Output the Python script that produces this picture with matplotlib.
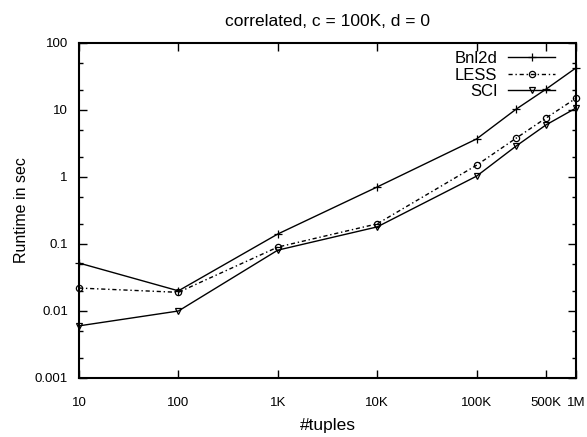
import matplotlib
matplotlib.use("Agg")
import matplotlib.pyplot as plt
from matplotlib.ticker import FixedLocator, LogLocator, NullLocator, NullFormatter

plt.rcParams['font.family'] = ['Liberation Sans', 'DejaVu Sans']

tuples = [10, 100, 1e3, 1e4, 1e5, 2.5e5, 5e5, 1e6]
bnl2d = [0.052, 0.020, 0.141, 0.71, 3.7, 10.3, 20.5, 42.5]
less = [0.022, 0.019, 0.090, 0.20, 1.5, 3.8, 7.6, 15.0]
sci = [0.006, 0.010, 0.081, 0.18, 1.03, 2.9, 6.0, 10.7]

xticks = [10, 100, 1e3, 1e4, 1e5, 5e5, 1e6]
xlabels = ['10', '100', '1K', '10K', '100K', '500K', '1M']
yticks = [0.001, 0.01, 0.1, 1, 10, 100]
ylabels = ['0.001', '0.01', '0.1', '1', '10', '100']

fig = plt.figure(figsize=(5.87, 4.37), dpi=100)
ax = fig.add_axes([79/587, 1 - 378/437, (576 - 79)/587, (378 - 43)/437])

ax.plot(tuples, bnl2d, color='black', lw=1, marker='+', ms=6, mew=0.9,
        clip_on=False, label='Bnl2d')
ax.plot(tuples, less, color='black', lw=1, dashes=(3, 2, 1, 2), marker='o', ms=4.5,
        mfc='none', mew=0.9, clip_on=False, label='LESS')
ax.plot(tuples, sci, color='black', lw=1, marker='v', ms=5, mfc='none', mew=0.9,
        clip_on=False, label='SCI')

ax.set_xscale('log')
ax.set_yscale('log')
ax.set_xlim(10, 1e6)
ax.set_ylim(0.001, 100)

ax.xaxis.set_major_locator(FixedLocator(xticks))
ax.set_xticklabels(xlabels)
ax.xaxis.set_minor_locator(NullLocator())
ax.yaxis.set_major_locator(FixedLocator(yticks))
ax.set_yticklabels(ylabels)
ax.yaxis.set_minor_locator(LogLocator(base=10, subs=[2, 5]))
ax.yaxis.set_minor_formatter(NullFormatter())

ax.tick_params(which='both', direction='in', top=True, right=True, labelsize=9.5, width=1)
ax.tick_params(which='major', length=6)
ax.tick_params(which='minor', length=3)
ax.tick_params(axis='x', which='major', pad=14)
ax.tick_params(axis='y', which='major', pad=8)
for s in ax.spines.values():
    s.set_linewidth(1.5)

ax.set_title('correlated, c = 100K, d = 0', fontsize=12.5, pad=12)
ax.set_xlabel('#tuples', fontsize=12.5, labelpad=6)
ax.set_ylabel('Runtime in sec', fontsize=11.5, labelpad=4)

leg = ax.legend(loc='upper right', bbox_to_anchor=(555/587, 1 - 51/437),
                bbox_transform=fig.transFigure, frameon=False, markerfirst=False,
                numpoints=1, fontsize=12, handlelength=2.8, handletextpad=0.65,
                labelspacing=0.1, borderaxespad=0, borderpad=0)

fig.savefig('out.png', dpi=100)
